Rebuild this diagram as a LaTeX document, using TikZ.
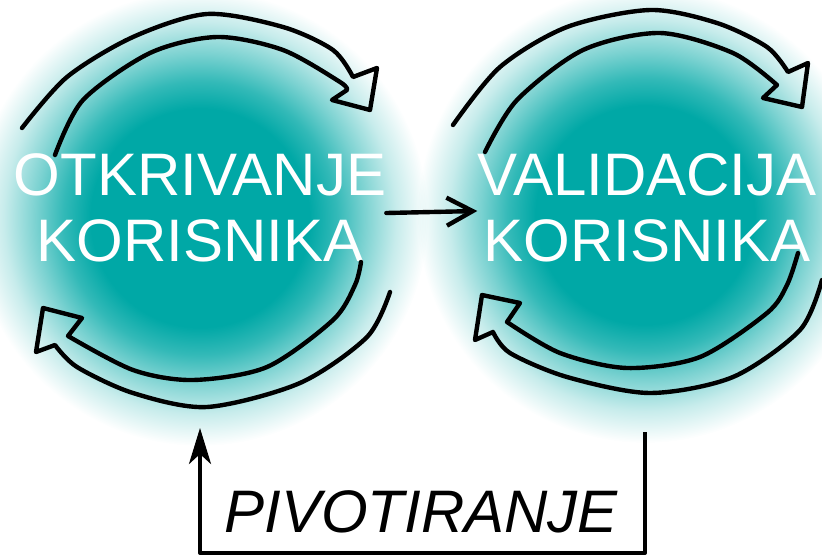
\documentclass[tikz,border=0pt]{standalone}
\usepackage{fontspec}
\setmainfont{Liberation Sans}
\usetikzlibrary{arrows.meta}

\definecolor{blobteal}{RGB}{0,168,166}
\pgfdeclareradialshading{blobshade}{\pgfpoint{0bp}{0bp}}{%
  color(0bp)=(blobteal); color(12bp)=(blobteal);
  color(15bp)=(blobteal!80!white); color(18bp)=(blobteal!52!white);
  color(21.5bp)=(blobteal!22!white); color(25bp)=(white); color(50bp)=(white)}

\tikzset{
  circtext/.style={text=white, align=center, inner sep=0pt,
    font=\fontsize{60}{66}\selectfont},
  pivtext/.style={inner sep=0pt, font=\fontsize{60}{66}\selectfont\itshape},
  cyclearrow/.style={draw, line width=4.4pt, line join=round, line cap=round}
}

\begin{document}
\begin{tikzpicture}[x=1pt,y=-1pt]
  \useasboundingbox (0,0) rectangle (822,557);
  \clip (0,0) rectangle (822,557);

  \shade[shading=blobshade] (200,218) circle (228);
  \shade[shading=blobshade, blend mode=multiply] (645,215) circle (228);

  \begin{scope}[every node/.style={circtext}]
    \node (otkr)  at (200,208) {OTKRIVANJE\\KORISNIKA};
    \node (valid) at (647,208) {VALIDACIJA\\KORISNIKA};
  \end{scope}

  \begin{scope}[cyclearrow]
    \draw plot[smooth] coordinates {(55,155) (83,100) (150,53) (217,37) (283,50) (340,82) (347,90)}
      -- (332,100) -- (370,110) -- (377,68)
      -- plot[smooth] coordinates {(353,77) (333,50) (283,27) (207,14) (133,37) (67,77) (22,128)};
    \draw plot[smooth] coordinates {(361,262) (355,285) (333,320) (267,367) (193,380) (133,370) (68,336)}
      -- (82,318) -- (43,308) -- (36,352)
      -- plot[smooth] coordinates {(55,345) (77,367) (133,393) (207,407) (300,383) (367,337) (390,292)};
    \draw plot[smooth] coordinates {(485,152) (517,100) (583,50) (660,33) (733,53) (777,85)}
      -- (763,98) -- (802,107) -- (808,63)
      -- plot[smooth] coordinates {(788,72) (767,47) (717,23) (650,10) (567,27) (500,67) (453,125)};
    \draw plot[smooth] coordinates {(798,253) (787,285) (767,313) (700,357) (627,368) (560,353) (507,322)}
      -- (520,303) -- (482,295) -- (475,340)
      -- plot[smooth] coordinates {(493,332) (510,353) (567,377) (650,393) (733,377) (800,330) (822,280)};
  \end{scope}

  \draw[line width=4.4pt, line cap=round, -{Straight Barb[length=26pt,width=28pt]}]
    ([yshift=-5pt]otkr.east) -- ([yshift=-3pt]valid.west);

  \node[pivtext] (pivot) at (421,512) {PIVOTIRANJE};
  \coordinate (pivA) at (645,432);
  \coordinate (pivB) at (200,428);
  \coordinate (pivbase) at (0,553);
  \draw[line width=4pt, line join=round, -{Stealth[length=36pt,width=22pt,inset=10pt]}]
    (pivA) -- (pivA |- pivbase) -| (pivB);

\end{tikzpicture}
\end{document}
